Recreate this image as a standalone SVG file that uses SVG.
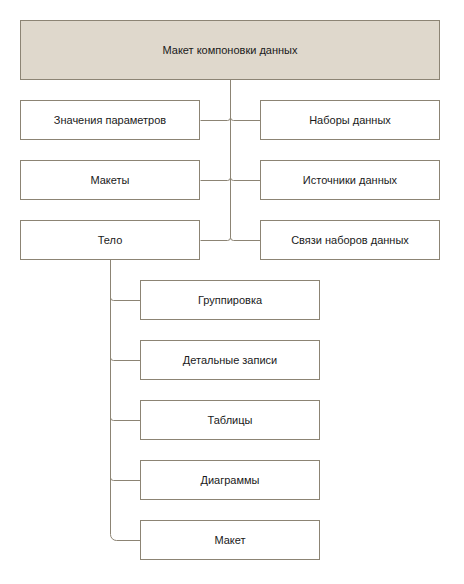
<svg xmlns="http://www.w3.org/2000/svg" width="464" height="584" viewBox="0 0 464 584">
<style>
.box{fill:#ffffff;stroke:#8c8474;stroke-width:1}
.root{fill:#dfd8cc;stroke:#8c8474;stroke-width:1}
.t{font-family:"Liberation Sans",Arial,sans-serif;font-size:11px;fill:#1a1a1a;text-anchor:middle;dominant-baseline:central}
.c{fill:none;stroke:#8c8474;stroke-width:1}
</style>
<rect width="464" height="584" fill="#ffffff"/>
<g id="connectors">
<path class="c" d="M230.5,79.5 V117.5 A3,3 0 0 1 227.5,120.5 H200.5"/>
<path class="c" d="M230.5,79.5 V117.5 A3,3 0 0 0 233.5,120.5 H260.5"/>
<path class="c" d="M230.5,79.5 V177.5 A3,3 0 0 1 227.5,180.5 H200.5"/>
<path class="c" d="M230.5,79.5 V177.5 A3,3 0 0 0 233.5,180.5 H260.5"/>
<path class="c" d="M230.5,79.5 V237.5 A3,3 0 0 1 227.5,240.5 H200.5"/>
<path class="c" d="M230.5,79.5 V237.5 A3,3 0 0 0 233.5,240.5 H260.5"/>
<path class="c" d="M110.5,259.5 V297.5 A3,3 0 0 0 113.5,300.5 H140.5"/>
<path class="c" d="M110.5,259.5 V357.5 A3,3 0 0 0 113.5,360.5 H140.5"/>
<path class="c" d="M110.5,259.5 V417.5 A3,3 0 0 0 113.5,420.5 H140.5"/>
<path class="c" d="M110.5,259.5 V477.5 A3,3 0 0 0 113.5,480.5 H140.5"/>
<path class="c" d="M110.5,259.5 V534.5 A6,6 0 0 0 116.5,540.5 H140.5"/>
</g>
<g id="root"><rect class="root" x="20.5" y="20.5" width="419" height="59"/><text class="t" x="230" y="50">Макет компоновки данных</text></g>
<g id="params"><rect class="box" x="20.5" y="100.5" width="179" height="39"/><text class="t" x="110" y="120">Значения параметров</text></g>
<g id="datasets"><rect class="box" x="260.5" y="100.5" width="179" height="39"/><text class="t" x="350" y="120">Наборы данных</text></g>
<g id="templates"><rect class="box" x="20.5" y="160.5" width="179" height="39"/><text class="t" x="110" y="180">Макеты</text></g>
<g id="sources"><rect class="box" x="260.5" y="160.5" width="179" height="39"/><text class="t" x="350" y="180">Источники данных</text></g>
<g id="body"><rect class="box" x="20.5" y="220.5" width="179" height="39"/><text class="t" x="110" y="240">Тело</text></g>
<g id="links"><rect class="box" x="260.5" y="220.5" width="179" height="39"/><text class="t" x="350" y="240">Связи наборов данных</text></g>
<g id="grouping"><rect class="box" x="140.5" y="280.5" width="179" height="39"/><text class="t" x="230" y="300">Группировка</text></g>
<g id="details"><rect class="box" x="140.5" y="340.5" width="179" height="39"/><text class="t" x="230" y="360">Детальные записи</text></g>
<g id="tables"><rect class="box" x="140.5" y="400.5" width="179" height="39"/><text class="t" x="230" y="420">Таблицы</text></g>
<g id="charts"><rect class="box" x="140.5" y="460.5" width="179" height="39"/><text class="t" x="230" y="480">Диаграммы</text></g>
<g id="layout"><rect class="box" x="140.5" y="520.5" width="179" height="39"/><text class="t" x="230" y="540">Макет</text></g>
</svg>
